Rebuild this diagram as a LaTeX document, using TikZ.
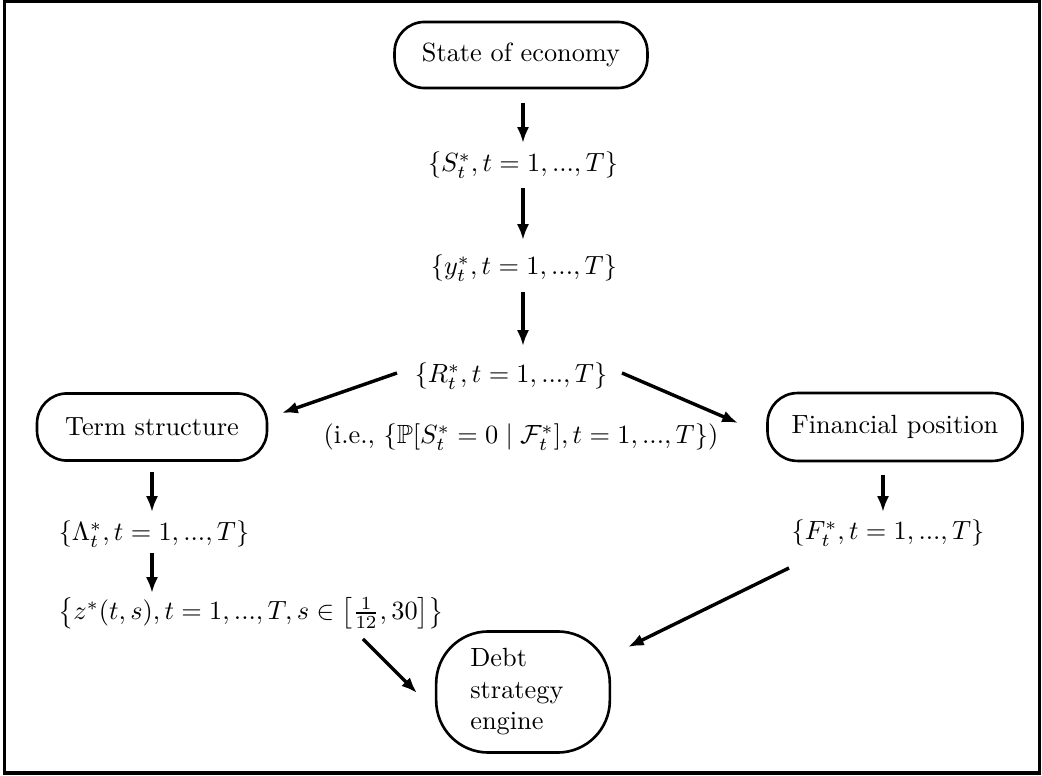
\documentclass[tikz,border=0pt]{standalone}
\usepackage{amsmath,amssymb}
\usetikzlibrary{arrows.meta}
\begin{document}
\begin{tikzpicture}[x=0.38pt,y=-0.38pt,
  pill/.style={draw,line width=1pt,rounded corners=11.4pt,inner sep=0pt},
  lbl/.style={inner sep=0pt},
  arr/.style={line width=1.3pt,-{Latex[length=6pt,width=4.6pt]}}]
\useasboundingbox (0,0) rectangle (1042,776);
\draw[line width=1.5pt] (4.5,1.5) rectangle (1039.5,773);
% nodes
\node[pill,minimum width=96.1pt,minimum height=25.1pt] (state) at (521,55) {State of economy};
\node[lbl] (S) at (523,165) {$\{S^*_t, t=1,...,T\}$};
\node[lbl] (y) at (524,268) {$\{y^*_t, t=1,...,T\}$};
\node[lbl] (R) at (511,376) {$\{R^*_t, t=1,...,T\}$};
\node[lbl] (ie) at (521,437) {(i.e., $\{\mathbb{P}[S^*_t=0\mid\mathcal{F}^*_t], t=1,...,T\}$)};
\node[pill,minimum width=87.4pt,minimum height=25.5pt] (term) at (152,427) {Term structure};
\node[pill,minimum width=96.9pt,minimum height=25.8pt] (fin) at (895,427) {Financial position};
\node[lbl] (L) at (154,534) {$\{\Lambda^*_t, t=1,...,T\}$};
\node[lbl] (z) at (251,613) {$\left\{z^*(t,s), t=1,...,T, s\in\left[\frac{1}{12},30\right]\right\}$};
\node[lbl] (F) at (888,533) {$\{F^*_t, t=1,...,T\}$};
\node[draw,line width=1pt,rounded corners=19.8pt,align=left,text width=40pt,inner xsep=13pt,minimum height=46pt] (debt) at (523,692) {Debt\\strategy\\engine};
% connectors
\draw[arr] ([shift={(2,48)}]state.center) -- ([shift={(0,-22)}]S.center);
\draw[arr] ([shift={(0,23)}]S.center) -- ([shift={(-1,-28)}]y.center);
\draw[arr] ([shift={(-1,24)}]y.center) -- ([shift={(12,-30)}]R.center);
\draw[arr] ([shift={(-114,-3)}]R.center) -- ([shift={(130,-14)}]term.center);
\draw[arr] ([shift={(111,-3)}]R.center) -- ([shift={(-157,-4)}]fin.center);
\draw[arr] ([shift={(0,45)}]term.center) -- ([shift={(-2,-22)}]L.center);
\draw[arr] ([shift={(-2,19)}]L.center) -- ([shift={(-99,-20)}]z.center);
\draw[arr] ([shift={(-12,48)}]fin.center) -- ([shift={(-5,-21)}]F.center);
\draw[arr] ([shift={(-99,35)}]F.center) -- ([shift={(105,-45)}]debt.center);
\draw[arr] ([shift={(112,26)}]z.center) -- ([shift={(-106,1)}]debt.center);
\end{tikzpicture}
\end{document}
